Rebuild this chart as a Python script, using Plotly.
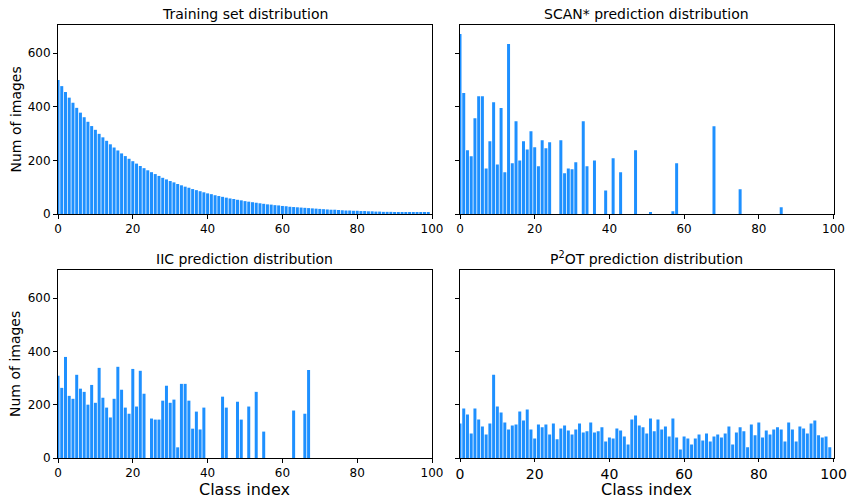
import plotly.graph_objects as go

classes = list(range(100))

train_counts = [500, 477, 455, 434, 415, 396, 378, 361, 344, 328,
                314, 299, 286, 273, 260, 248, 237, 226, 216, 206,
                197, 188, 179, 171, 163, 156, 149, 142, 135, 129,
                123, 118, 112, 107, 102, 98, 93, 89, 85, 81,
                77, 74, 70, 67, 64, 61, 58, 56, 53, 51,
                48, 46, 44, 42, 40, 38, 36, 35, 33, 32,
                30, 29, 27, 26, 25, 24, 23, 22, 21, 20,
                19, 18, 17, 16, 16, 15, 14, 13, 13, 12,
                12, 11, 11, 10, 10, 9, 9, 8, 8, 8,
                7, 7, 6, 6, 6, 6, 5, 5, 5, 5]

scan_counts = [671, 451, 238, 215, 357, 439, 439, 170, 271, 417,
               185, 395, 156, 634, 189, 346, 200, 271, 241, 309,
               249, 178, 275, 245, 268, 0, 0, 275, 152, 170,
               167, 193, 0, 346, 178, 0, 200, 0, 0, 88,
               0, 208, 0, 156, 0, 0, 0, 238, 0, 0,
               0, 6, 0, 0, 0, 0, 0, 10, 189, 0,
               0, 0, 0, 0, 0, 0, 0, 0, 327, 0,
               0, 0, 0, 0, 0, 92, 0, 0, 0, 0,
               0, 0, 0, 0, 0, 0, 25, 0, 0, 0,
               0, 0, 0, 0, 0, 0, 0, 0, 0, 0]

iic_counts = [308, 263, 379, 233, 222, 312, 260, 248, 200, 274,
              207, 338, 226, 189, 152, 222, 342, 256, 189, 166,
              334, 193, 327, 241, 0, 148, 144, 144, 215, 271,
              207, 219, 40, 278, 278, 215, 110, 174, 107, 189,
              0, 0, 0, 0, 230, 189, 0, 0, 211, 144,
              0, 193, 0, 248, 0, 99, 0, 0, 0, 0,
              0, 0, 0, 178, 0, 0, 166, 330, 0, 0,
              0, 0, 0, 0, 0, 0, 0, 0, 0, 0,
              0, 0, 0, 0, 0, 0, 0, 0, 0, 0,
              0, 0, 0, 0, 0, 0, 0, 0, 0, 0]

p2ot_counts = [129, 186, 163, 92, 186, 144, 118, 88, 129, 312,
               193, 171, 133, 107, 122, 126, 174, 141, 182, 107,
               73, 126, 115, 126, 88, 129, 70, 111, 122, 103,
               88, 107, 129, 96, 100, 133, 96, 100, 115, 62,
               77, 73, 111, 103, 81, 51, 144, 159, 122, 115,
               92, 148, 100, 144, 107, 118, 81, 148, 77, 32,
               81, 73, 51, 73, 88, 66, 92, 62, 81, 88,
               77, 92, 118, 51, 96, 115, 100, 40, 126, 85,
               133, 77, 103, 88, 107, 115, 107, 62, 133, 107,
               62, 118, 111, 92, 129, 141, 85, 77, 81, 40]

titles = ["Training set distribution", "SCAN* prediction distribution",
          "IIC prediction distribution", "P<sup>2</sup>OT prediction distribution"]
x_ticks = [0, 20, 40, 60, 80, 100]
y_ticks = [0, 200, 400, 600]
y_label = "Num of images"
x_label = "Class index"

W, H = 847, 500
FONT = "DejaVu Sans"
BAR_COLOR = "#1E90FF"

dom_x = [(58 / W, 432 / W), (460 / W, 833.5 / W)]
dom_y_top = (1 - 214 / H, 1 - 25 / H)
dom_y_bot = (1 - 458 / H, 1 - 270 / H)

panels = [
    (train_counts, dom_x[0], dom_y_top, True, 12, 4),
    (scan_counts, dom_x[1], dom_y_top, False, 12, 4),
    (iic_counts, dom_x[0], dom_y_bot, True, 12, 4),
    (p2ot_counts, dom_x[1], dom_y_bot, False, 14, 3),
]

fig = go.Figure()
layout = dict(
    width=W, height=H,
    margin=dict(l=0, r=0, t=0, b=0),
    paper_bgcolor="white", plot_bgcolor="white",
    showlegend=False,
    font=dict(family=FONT, color="black"),
)
annotations = []

for i, (vals, dx, dy, show_y, xfs, xtl) in enumerate(panels):
    n = i + 1
    sx = "" if n == 1 else str(n)
    fig.add_trace(go.Bar(x=classes, y=vals, width=0.8,
                         marker=dict(color=BAR_COLOR, line=dict(width=0)),
                         xaxis="x" + sx, yaxis="y" + sx))
    common = dict(showline=True, mirror=True, linecolor="black", linewidth=1,
                  ticks="outside", tickwidth=1, tickcolor="black",
                  showgrid=False, zeroline=False, automargin=False,
                  ticklabeloverflow="allow")
    layout["xaxis" + sx] = dict(domain=list(dx), anchor="y" + sx, range=[0, 100],
                                tickmode="array", tickvals=x_ticks, ticklen=xtl,
                                ticktext=[str(t) for t in x_ticks],
                                tickfont=dict(size=xfs, family=FONT), **common)
    layout["yaxis" + sx] = dict(domain=list(dy), anchor="x" + sx, range=[0, 705],
                                tickmode="array", tickvals=y_ticks, ticklen=4,
                                ticktext=[str(t) for t in y_ticks],
                                showticklabels=show_y,
                                tickfont=dict(size=12, family=FONT), **common)
    annotations.append(dict(text=titles[i], x=(dx[0] + dx[1]) / 2, y=dy[1],
                            xref="paper", yref="paper", xanchor="center",
                            yanchor="bottom", yshift=1, showarrow=False,
                            font=dict(size=14, family=FONT)))

for dy in (dom_y_top, dom_y_bot):
    annotations.append(dict(text=y_label, x=15 / W, y=(dy[0] + dy[1]) / 2,
                            xref="paper", yref="paper", xanchor="center",
                            yanchor="middle", textangle=-90, showarrow=False,
                            font=dict(size=14, family=FONT)))
for dx in dom_x:
    annotations.append(dict(text=x_label, x=(dx[0] + dx[1]) / 2, y=0,
                            xref="paper", yref="paper", xanchor="center",
                            yanchor="bottom", yshift=0, borderpad=0,
                            showarrow=False,
                            font=dict(size=16, family=FONT)))

layout["annotations"] = annotations
fig.update_layout(**layout)
fig.write_html("out.html", config={"displayModeBar": False})

with open("out.html", "r", encoding="utf-8") as f:
    html = f.read()
html = html.replace("<head>", "<head><style>html,body{margin:0;padding:0;overflow:hidden;}</style>", 1)
with open("out.html", "w", encoding="utf-8") as f:
    f.write(html)
